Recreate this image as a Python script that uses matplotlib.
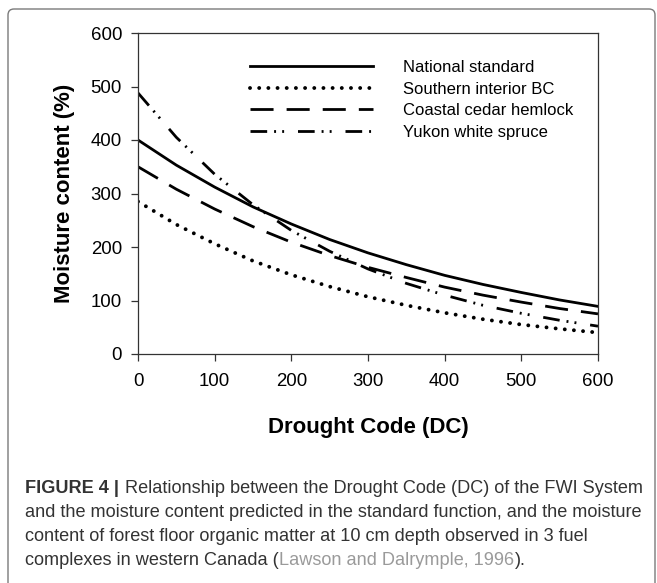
import matplotlib
matplotlib.use('Agg')
import matplotlib.pyplot as plt
from matplotlib.patches import FancyBboxPatch
from matplotlib.transforms import IdentityTransform

plt.rcParams['font.family'] = ['Liberation Sans', 'DejaVu Sans']

dc = [0, 50, 100, 150, 200, 250, 300, 350, 400, 450, 500, 550, 600]

# moisture content (%)
national = [400, 353, 312, 275, 243, 214, 189, 167, 147, 130, 115, 101, 89]
southern_bc = [285, 242, 206, 174, 148, 126, 107, 91, 77, 65, 55, 47, 40]
coastal = [350, 308, 271, 238, 209, 184, 162, 143, 125, 110, 97, 85, 75]
yukon = [488, 405, 336, 279, 231, 192, 159, 132, 110, 91, 76, 63, 52]

labels = ['National standard', 'Southern interior BC',
          'Coastal cedar hemlock', 'Yukon white spruce']
xticks = [0, 100, 200, 300, 400, 500, 600]
yticks = [0, 100, 200, 300, 400, 500, 600]

caption_lines = [
    [('FIGURE 4 |', 'bold'), (' Relationship between the Drought Code (DC) of the FWI System', 'normal')],
    [('and the moisture content predicted in the standard function, and the moisture', 'normal')],
    [('content of forest floor organic matter at 10 cm depth observed in 3 fuel', 'normal')],
    [('complexes in western Canada (', 'normal'), ('Lawson and Dalrymple, 1996', 'cite'), (').', 'normal')],
]

W, H = 657, 583
fig = plt.figure(figsize=(W / 100, H / 100), dpi=100)
ax = fig.add_axes([138 / W, 1 - 354 / H, 460 / W, 321 / H])

ax.plot(dc, national, color='black', lw=2.0, label=labels[0])
ax.plot(dc, southern_bc, color='black', lw=2.8, dashes=(0.01, 2.35),
        dash_capstyle='round', label=labels[1])
ax.plot(dc, coastal, color='black', lw=2.0, dashes=(8.3, 4.7), label=labels[2])
ax.plot(dc, yukon, color='black', lw=2.0, dashes=(6, 2.5, 0.7, 2.2, 0.7, 5),
        label=labels[3])

ax.set_xlim(0, 600)
ax.set_ylim(0, 600)
ax.set_xticks(xticks)
ax.set_yticks(yticks)
ax.tick_params(direction='out', length=5, width=0.9, color='#333333',
               labelsize=13.4, top=False, right=False)
ax.tick_params(axis='x', pad=8.5)
ax.tick_params(axis='y', pad=6.5)
for sp in ax.spines.values():
    sp.set_linewidth(0.9)
    sp.set_color('#333333')

ax.set_xlabel('Drought Code (DC)', fontsize=16, fontweight='bold', va='baseline')
ax.xaxis.set_label_coords(0.5, (354 - 433) / 321)
ax.set_ylabel('Moisture content (%)', fontsize=16, fontweight='bold', va='baseline')
ax.yaxis.set_label_coords((70 - 138) / 460, 0.5)

leg = ax.legend(loc='upper left', bbox_to_anchor=((250 - 138) / 460, (354 - 60) / 321),
                frameon=False, fontsize=12, borderpad=0, borderaxespad=0,
                handlelength=7.4, handletextpad=1.8, labelspacing=0.4)

# rounded frame around the whole figure panel
frame = FancyBboxPatch((8, -30), 647, H - 9 + 30,
                       boxstyle='round,pad=0,rounding_size=6',
                       transform=IdentityTransform(), fill=False,
                       ec='#7a7a7a', lw=1.0)
fig.add_artist(frame)

# caption, drawn run by run so bold / grey parts follow on
renderer = fig.canvas.get_renderer()
cap_size = 13.1
styles = {
    'bold': dict(fontweight='bold', color='#333333'),
    'normal': dict(color='#333333'),
    'cite': dict(color='#9a9a9a'),
}
space_w = None
y0 = 493
for i, runs in enumerate(caption_lines):
    x = 25
    y = y0 + i * 24
    for txt, st in runs:
        lead = len(txt) - len(txt.lstrip(' '))
        t = fig.text(x / W, 1 - y / H, txt.strip(' '), fontsize=cap_size,
                     va='baseline', ha='left', **styles[st])
        if lead:
            if space_w is None:
                a = fig.text(0, 0, 'x x', fontsize=cap_size)
                b = fig.text(0, 0, 'xx', fontsize=cap_size)
                space_w = (a.get_window_extent(renderer).width
                           - b.get_window_extent(renderer).width)
                a.remove()
                b.remove()
            x += space_w * lead
            t.set_x(x / W)
        x += t.get_window_extent(renderer).width + 0.6

fig.savefig('out.png', dpi=100)
